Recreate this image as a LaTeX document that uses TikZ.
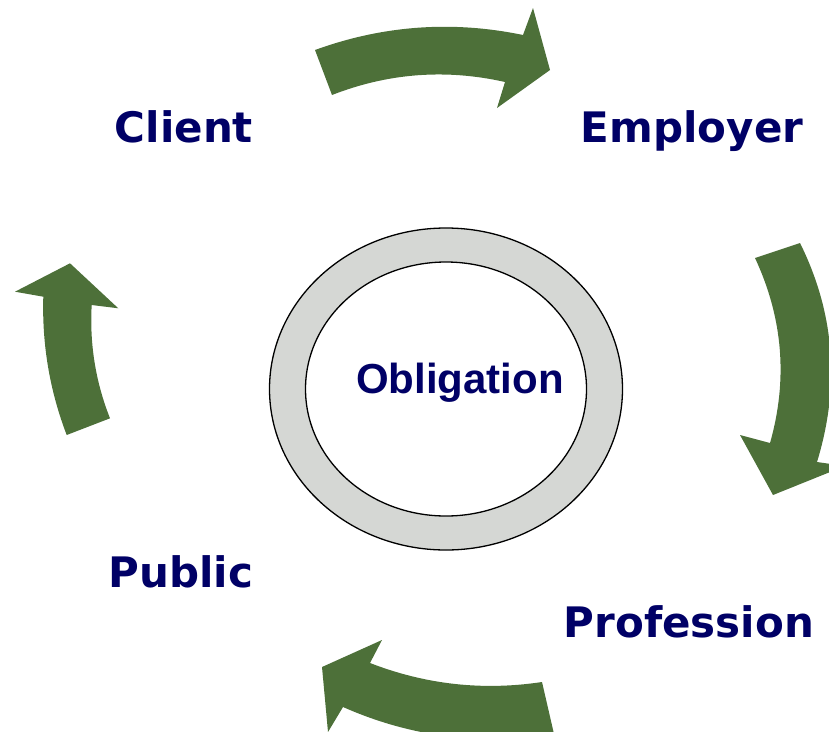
\documentclass[tikz,border=0pt]{standalone}
\usepackage{fontspec}
\usetikzlibrary{shapes.geometric}
\newfontfamily\partyfont{DejaVu Sans}
\newfontfamily\ringfont{Liberation Sans}
\definecolor{arrowgreen}{RGB}{77,112,57}
\definecolor{navytext}{RGB}{0,0,102}
\definecolor{ringgray}{RGB}{213,215,212}

\begin{document}
\begin{tikzpicture}[x=1pt,y=-1pt,
  party/.style={anchor=base,text=navytext,font=\partyfont\bfseries\fontsize{42}{48}\selectfont},
  ring/.style={ellipse,draw,line width=1.3pt,inner sep=0pt},
  bigarrow/.style={fill=arrowgreen}]
\useasboundingbox (0,0) rectangle (829,731);
\clip (0,0) rectangle (829,731);

% ring in the middle
\path (446,389) node[ring,fill=ringgray,minimum width=353pt,minimum height=322pt](outer) {}
(446,389) node[ring,fill=white,minimum width=281pt,minimum height=254pt](inner) {}
(460,393) node[party,font=\ringfont\bfseries\fontsize{42}{48}\selectfont](Obligation) {Obligation}
;

% the four parties
\path (184,142) node[party](Client) {Client}
(692,142) node[party](Employer) {Employer}
(689,637) node[party](Profession) {Profession}
(181,587) node[party](Public) {Public}
;

% arrows round the cycle
\fill[bigarrow] (315,50) .. controls (383,25.3) and (452.3,20.3) .. (523,35) -- (533,8) -- (550,70)
  -- (497,108) -- (505,82) .. controls (446,68.7) and (388.3,73) .. (332,95) -- cycle;
\fill[bigarrow] (800,243) .. controls (834.7,313) and (840.3,386) .. (817,462) -- (845,466) -- (773,495)
  -- (740,435) -- (770,443) .. controls (788,379.7) and (783,318) .. (755,258) -- cycle;
\fill[bigarrow] (554,734) .. controls (481.1,745.9) and (410.7,736.9) .. (343,707) -- (328,732) -- (322,667)
  -- (382,640) -- (370,663) .. controls (425.7,684.6) and (483,690.9) .. (542,682) -- cycle;
\fill[bigarrow] (66.7,435) .. controls (49.7,390.6) and (41.9,344.5) .. (43.3,296.7) -- (15,291.7) -- (70,263.3)
  -- (118.3,308.3) -- (91.7,305) .. controls (89.5,344.1) and (95.6,381.9) .. (110,418.3) -- cycle;

\end{tikzpicture}
\end{document}
